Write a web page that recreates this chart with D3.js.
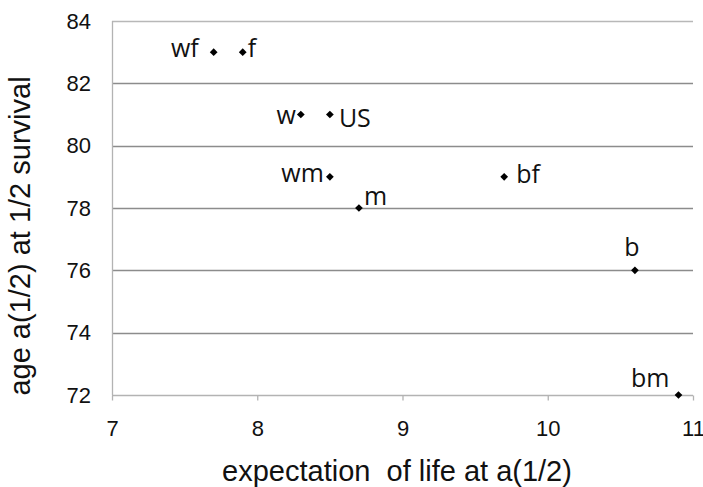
<!DOCTYPE html>
<html>
<head>
<meta charset="utf-8">
<script src="https://cdn.jsdelivr.net/npm/d3@7"></script>
<style>
  html, body { margin: 0; padding: 0; background: #fff; }
  svg { display: block; }
</style>
</head>
<body>
<div id="chart"></div>
<script>
// chart values
const labels = ['wf', 'f', 'w', 'US', 'wm', 'm', 'bf', 'b', 'bm'];
const lifeExp = [7.7, 7.9, 8.3, 8.5, 8.5, 8.7, 9.7, 10.6, 10.9];
const halfAge = [83, 83, 81, 81, 79, 78, 79, 76, 72];
const xTicks = [7, 8, 9, 10, 11];
const yTicks = [72, 74, 76, 78, 80, 82, 84];
const xTitle = 'expectation  of life at a(1/2)';
const yTitle = 'age a(1/2) at 1/2 survival';

const W = 703;
const H = 487;
const margin = { t: 21, r: 10, b: 92, l: 112 };

// where each point label sits around its marker
const placement = {
  wf: { anchor: 'end', dx: -15, dy: 5 },
  f: { anchor: 'start', dx: 5, dy: 5 },
  w: { anchor: 'end', dx: -5, dy: 9 },
  US: { anchor: 'start', dx: 9, dy: 12 },
  wm: { anchor: 'end', dx: -6, dy: 5 },
  m: { anchor: 'start', dx: 5, dy: -3 },
  bf: { anchor: 'start', dx: 12, dy: 6 },
  b: { anchor: 'middle', dx: -3, dy: -14 },
  bm: { anchor: 'end', dx: -9, dy: -8 }
};

const points = labels.map((l, i) => ({ label: l, x: lifeExp[i], y: halfAge[i] }));

const svg = d3.select('#chart').append('svg')
  .attr('width', W)
  .attr('height', H);

const scaleX = d3.scaleLinear()
  .domain([7, 11])
  .range([margin.l, 693]);

const scaleY = d3.scaleLinear()
  .domain([72, 84])
  .range([395, margin.t]);

// gridlines
svg.append('g')
  .attr('class', 'grid')
  .selectAll('line')
  .data(yTicks.filter(d => d !== 72))
  .join('line')
  .attr('x1', scaleX(7))
  .attr('x2', scaleX(11))
  .attr('y1', d => Math.round(scaleY(d)) + 0.5)
  .attr('y2', d => Math.round(scaleY(d)) + 0.5)
  .attr('stroke', d => d === 84 ? '#b8b8b8' : '#8c8c8c')
  .attr('stroke-width', 1.3);

// y axis line
svg.append('line')
  .attr('x1', scaleX(7) + 0.5)
  .attr('x2', scaleX(7) + 0.5)
  .attr('y1', scaleY(84))
  .attr('y2', scaleY(72))
  .attr('stroke', '#b3b3b3')
  .attr('stroke-width', 1.3);

// x axis
const xAxis = d3.axisBottom(scaleX)
  .tickValues(xTicks)
  .tickSize(5)
  .tickPadding(20)
  .tickFormat(d3.format('d'));

const gx = svg.append('g')
  .attr('class', 'axis axis--x')
  .attr('transform', `translate(0, ${Math.round(scaleY(72)) + 0.5})`)
  .call(xAxis);

gx.select('.domain')
  .attr('d', `M${scaleX(7)},0H${scaleX(11)}`)
  .attr('stroke', '#b3b3b3')
  .attr('stroke-width', 1.3);
gx.selectAll('.tick line').attr('stroke', '#b3b3b3').attr('stroke-width', 1.3);
gx.selectAll('.tick text')
  .attr('fill', '#111')
  .style('font-family', '"Liberation Sans", Arial, sans-serif')
  .style('font-size', '22px');

// y axis labels
const yAxis = d3.axisLeft(scaleY)
  .tickValues(yTicks)
  .tickSize(0)
  .tickPadding(21)
  .tickFormat(d3.format('d'));

const gy = svg.append('g')
  .attr('class', 'axis axis--y')
  .attr('transform', `translate(${scaleX(7)}, 0)`)
  .call(yAxis);

gy.select('.domain').remove();
gy.selectAll('.tick text')
  .attr('fill', '#111')
  .style('font-family', '"Liberation Sans", Arial, sans-serif')
  .style('font-size', '22px');

// markers
svg.append('g')
  .selectAll('path')
  .data(points)
  .join('path')
  .attr('d', d3.symbol(d3.symbolSquare, 30))
  .attr('transform', d => `translate(${scaleX(d.x)}, ${scaleY(d.y)}) rotate(45)`)
  .attr('fill', '#000');

// point labels
svg.append('g')
  .selectAll('text')
  .data(points)
  .join('text')
  .attr('x', d => scaleX(d.x) + placement[d.label].dx)
  .attr('y', d => scaleY(d.y) + placement[d.label].dy)
  .attr('text-anchor', d => placement[d.label].anchor)
  .style('font-family', '"Open Sans", sans-serif')
  .style('font-size', '25px')
  .attr('fill', '#111')
  .text(d => d.label);

// axis titles
svg.append('text')
  .attr('x', 397)
  .attr('y', 481)
  .attr('text-anchor', 'middle')
  .style('font-family', '"Liberation Sans", Arial, sans-serif')
  .style('font-size', '29px')
  .style('white-space', 'pre')
  .attr('fill', '#111')
  .text(xTitle);

svg.append('text')
  .attr('transform', 'translate(30, 236) rotate(-90)')
  .attr('text-anchor', 'middle')
  .style('font-family', '"Liberation Sans", Arial, sans-serif')
  .style('font-size', '29px')
  .attr('fill', '#111')
  .text(yTitle);
</script>
</body>
</html>
